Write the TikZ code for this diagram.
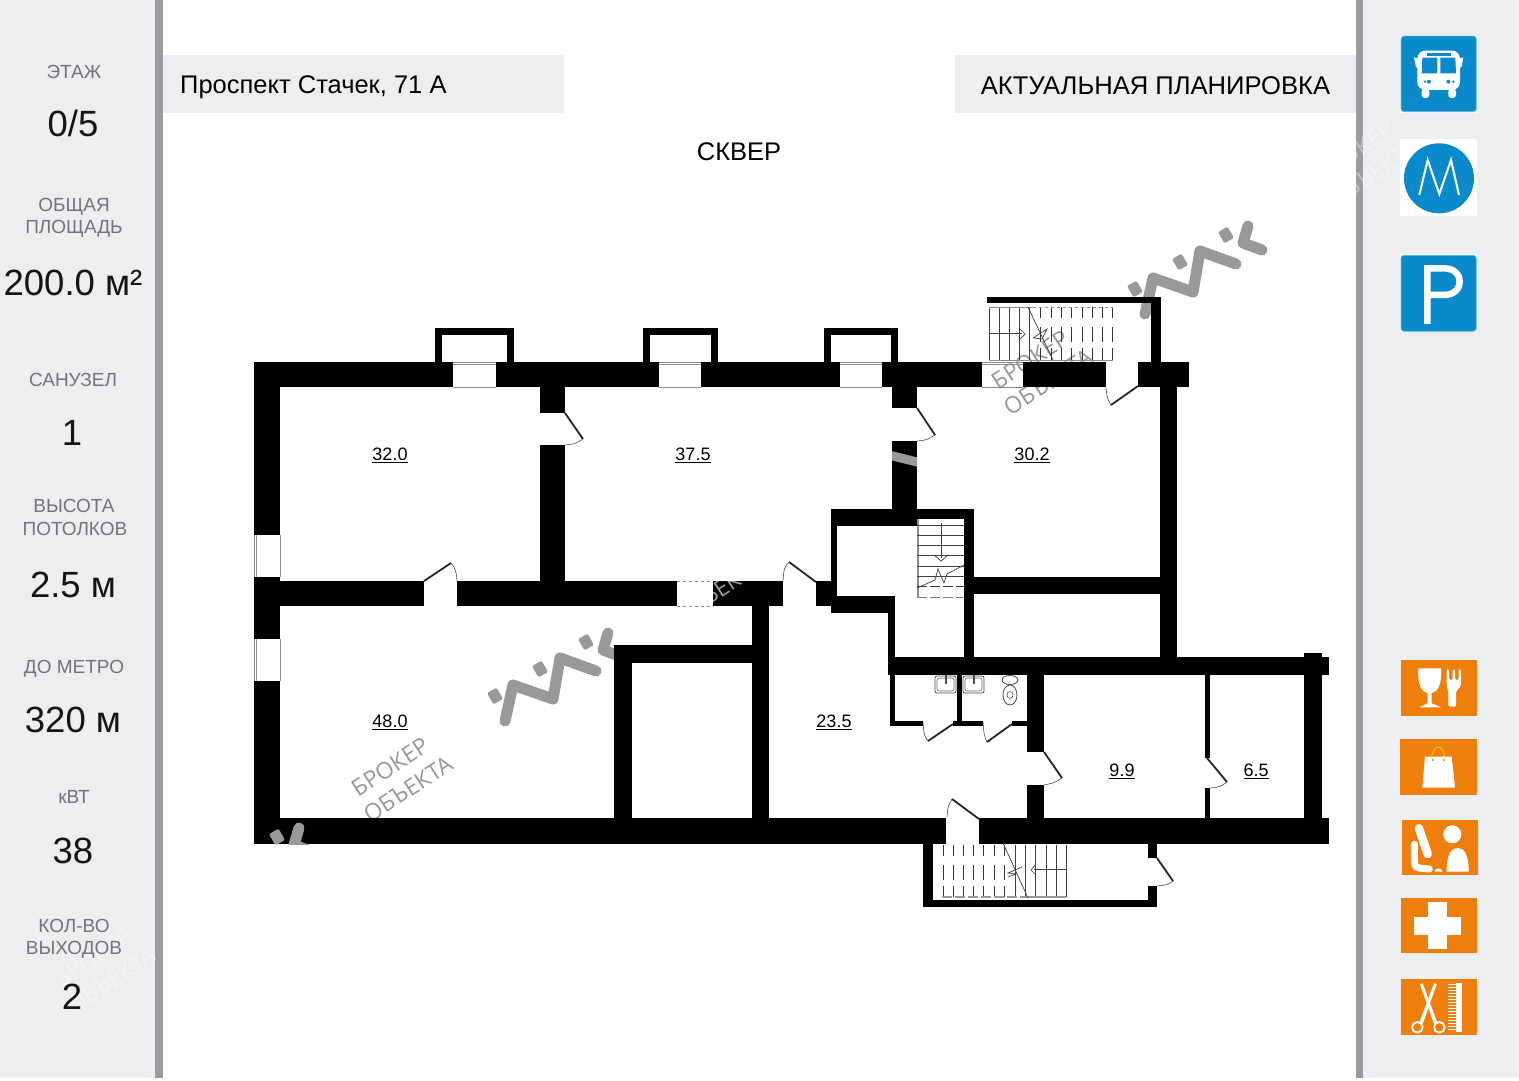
\documentclass[tikz,border=0pt]{standalone}
\usepackage{fontspec}
\setmainfont{Liberation Sans}
\newfontfamily\wmfont{Open Sans}
\usetikzlibrary{calc}
\definecolor{panelc}{HTML}{EDEEF0}
\definecolor{barc}{HTML}{9B9BA2}
\definecolor{labelc}{HTML}{747478}
\definecolor{valc}{HTML}{141414}
\definecolor{wmc}{HTML}{999999}
\definecolor{bluec}{HTML}{0B8ACB}
\definecolor{blueedge}{HTML}{62BBD2}
\definecolor{orangec}{HTML}{EE7F0D}
\tikzset{
  lab/.style={font=\fontsize{19}{19}\selectfont,text=labelc,inner sep=0pt,anchor=center},
  val/.style={font=\fontsize{36.5}{36}\selectfont,text=valc,inner sep=0pt,anchor=center},
  area/.style={font=\fontsize{18}{18}\selectfont,text=black,inner sep=0pt,anchor=center},
  head/.style={text=black,inner sep=0pt,anchor=center},
  wmtext/.style={rotate=33,text=wmc,font=\wmfont\fontsize{23}{23}\selectfont,inner sep=0pt},
  wmfaint/.style={rotate=33,text=white,text opacity=.38,font=\wmfont\fontsize{23}{23}\selectfont,inner sep=0pt},
  thinl/.style={line width=.7pt,draw=black!75},
  win/.style={line width=.7pt,draw=black!45},
  leaf/.style={line width=1.8pt,draw=black!85},
  arcl/.style={line width=.6pt,draw=black!70},
  treaddash/.style={line width=.8pt,draw=black!80,dash pattern=on 11pt off 9pt on 15pt off 6pt on 12pt},
}
\newcommand\wall[4]{\fill[black] (#1,#2) rectangle (#3,#4);}
\newcommand\door[4]{\draw[leaf] #1 -- #2; \draw[arcl] #2 .. controls #3 .. #4;}
\newcommand\logomark{%
  \draw[wmc,line width=11pt,line join=round,line cap=round] (1145,314) -- (1153,278) -- (1193,292) -- (1200,251) -- (1236,264);
  \draw[wmc,line width=11pt,line join=round,line cap=round] (1248,226) -- (1243,243) -- (1262,250);
  \foreach \dx/\dy in {1135/289,1180/262,1226/235}{
    \fill[wmc,rounded corners=1.5pt,rotate around={30:(\dx,\dy)}] (\dx-5.5,\dy-6.5) rectangle (\dx+5.5,\dy+6.5);}
}
\begin{document}
\begin{tikzpicture}[x=1pt,y=-1pt]
\useasboundingbox (0,0) rectangle (1519,1080);
\fill[white] (0,0) rectangle (1519,1080);
% panels
\fill[panelc] (0,0) rectangle (155,1078);
\fill[barc] (155,0) rectangle (163,1078);
\fill[barc] (1356,0) rectangle (1363,1078);
\fill[panelc] (1363,0) rectangle (1519,1078);
\fill[panelc] (163,55) rectangle (564,113);
\fill[panelc] (955,55) rectangle (1356,113);
% faint watermarks on the panels
\begin{scope}
\clip (60,900) rectangle (155,1010);
\node[wmfaint] (wmpa) at (93,958) {БРОКЕР};
\node[wmfaint] (wmpb) at (111,980) {ОБЪЕКТА};
\end{scope}
\begin{scope}
\clip (1356,100) rectangle (1400,210);
\node[wmfaint] (wmpc) at (1355,151) {БРОКЕР};
\node[wmfaint] (wmpd) at (1373,173) {ОБЪЕКТА};
\end{scope}
% watermarks under the walls
\logomark
\begin{scope}[shift={(-640,407)}]\logomark\end{scope}
\node[wmtext] (wma) at (390,767) {БРОКЕР};
\node[wmtext] (wmb) at (408,789) {ОБЪЕКТА};
\node[wmtext] (wmc1) at (1030,360) {БРОКЕР};
\node[wmtext] (wmd) at (1048,382) {ОБЪЕКТА};
% windows
\foreach \xa/\xb in {453/496,659/701,840/882,982/1023}{
  \draw[win] (\xa,362) -- (\xb,362) (\xa,364) -- (\xb,364) (\xa,387) -- (\xb,387);}
\foreach \ya/\yb in {535/577,639/681}{
  \draw[win] (254,\ya) -- (254,\yb) (256,\ya) -- (256,\yb) (280,\ya) -- (280,\yb);}
\draw[win,dashed] (677,581) -- (713,581) (677,606) -- (713,606);
% walls: outer frame
\wall{254}{362}{453}{387}\wall{496}{362}{659}{387}\wall{701}{362}{840}{387}
\wall{882}{362}{982}{387}\wall{1023}{362}{1106}{387}\wall{1138}{362}{1189}{387}
\wall{254}{362}{280}{535}\wall{254}{577}{280}{639}\wall{254}{681}{280}{844}
\wall{254}{818}{946}{844}\wall{979}{818}{1329}{844}
% window bays on the north wall
\foreach \xa/\xb in {435/514,643/718,824/898}{
  \wall{\xa}{328}{\xb}{335}\wall{\xa}{328}{\xa+7}{362}\wall{\xb-7}{328}{\xb}{362}}
% inner walls
\wall{540}{387}{565}{413}\wall{540}{445}{565}{581}
\wall{280}{581}{424}{606}\wall{457}{581}{677}{606}\wall{713}{581}{783}{606}\wall{816}{581}{837}{606}
\wall{892}{387}{917}{408}\wall{892}{441}{917}{509}
\wall{752}{606}{769}{818}
\wall{614}{645}{752}{663}\wall{614}{645}{632}{818}
\wall{831}{509}{917}{526}\wall{917}{509}{974}{519}\wall{831}{509}{837}{596}
\wall{964}{509}{974}{658}
\wall{974}{577}{1160}{594}\wall{1160}{387}{1177}{658}
\wall{831}{596}{895}{613}\wall{888}{596}{895}{675}
\wall{888}{657}{1329}{675}\wall{1304}{653}{1322}{818}
\wall{890}{675}{895}{726}\wall{890}{721}{923}{726}\wall{953}{721}{983}{726}\wall{1012}{721}{1027}{726}
\wall{957}{675}{962}{721}
\wall{1027}{675}{1044}{752}\wall{1027}{785}{1044}{818}
\wall{1205}{675}{1210}{758}\wall{1205}{788}{1210}{818}
% stair enclosures
\wall{987}{297}{1161}{303}\wall{1151}{297}{1161}{362}
\wall{923}{843}{933}{907}\wall{923}{900}{1157}{907}\wall{1148}{843}{1157}{858}\wall{1148}{886}{1157}{907}
% watermarks over the walls
\begin{scope}
\clip (254,818) rectangle (1329,844);
\begin{scope}[shift={(-949,602)}]\logomark\end{scope}
\end{scope}
\begin{scope}
\clip (892,441) rectangle (917,509);
\draw[wmc,line width=9pt] (885,454) -- (925,464);
\end{scope}
\begin{scope}
\clip (713,581) rectangle (783,606);
\node[wmtext] (wme) at (718,590) {ОБЪЕКТА};
\end{scope}
% doors
\door{(424,581)}{(451,563)}{(456,570)}{(457,581)}
\door{(565,413)}{(583,439)}{(575,444)}{(565,445)}
\door{(917,408)}{(935,435)}{(927,440)}{(917,441)}
\door{(1138,386)}{(1111,405)}{(1107,398)}{(1106,387)}
\door{(816,582)}{(789,562)}{(784,568)}{(783,581)}
\door{(979,819)}{(952,799)}{(948,806)}{(947,817)}
\door{(953,724)}{(928,741)}{(924,735)}{(923,722)}
\door{(1012,724)}{(987,742)}{(984,735)}{(983,722)}
\door{(1044,752)}{(1062,778)}{(1054,783)}{(1044,785)}
\door{(1207,758)}{(1227,782)}{(1220,787)}{(1210,788)}
\door{(1157,858)}{(1173,881)}{(1167,885)}{(1157,886)}
% north stair
\foreach \x in {989,999,1009,1019,1029}{\draw[thinl] (\x,307) -- (\x,360);}
\foreach \x in {1040,1051,1061,1071,1082,1092,1102,1112}{\draw[treaddash] (\x,307) -- (\x,360);}
\draw[line width=1pt,black!45] (989,307) -- (1033,307) (989,360) -- (1113,360);
\draw[line width=1pt,black!45,dashed] (1033,307) -- (1113,307);
\draw[thinl] (989,333) -- (1022,333);
\draw[thinl] (1019,328) -- (1025,334) -- (1019,340);
\draw[thinl] (1028,307) -- (1053,360);
\draw[thinl] (1033,338) -- (1047,329) -- (1042,339) -- (1034,338);
% inner stair
\fill[black!45] (917,519) rectangle (919,597);
\foreach \y in {525,535,545,555,566,576}{\draw[thinl] (917,\y) -- (964,\y);}
\draw[treaddash,dash pattern=on 10pt off 3pt] (917,586) -- (964,586);
\draw[black!50,line width=1pt,dash pattern=on 10pt off 3pt] (917,597) -- (964,597);
\draw[thinl] (941,523) -- (941,558);
\draw[thinl] (934,555) -- (941,561) -- (948,555);
\draw[thinl] (917,588) -- (935,580) -- (938,569) -- (944,583) -- (947,574) -- (964,565);
% south stair
\foreach \x in {943,953,963,973,983,994,1004}{\draw[treaddash] (\x,845) -- (\x,897);}
\foreach \x in {1015,1025,1035,1046,1056,1066}{\draw[thinl] (\x,845) -- (\x,897);}
\draw[line width=1.5pt,black!40,dash pattern=on 10pt off 3pt] (942,897) -- (1025,897);
\draw[line width=1.5pt,black!40] (1025,897) -- (1066,897);
\draw[thinl] (1034,869) -- (1066,869);
\draw[thinl] (1036,864) -- (1031,870) -- (1036,875);
\draw[thinl] (1003,843) -- (1028,898);
\draw[thinl] (1022,867) -- (1008,873) -- (1016,874) -- (1008,877);
% fixtures
\foreach \x in {935,963}{
  \draw[line width=.8pt,black!70,fill=white,rounded corners=2pt] (\x,676) rectangle (\x+21,693);
  \draw[line width=.6pt,black!60,rounded corners=2pt] (\x+2,678) rectangle (\x+19,691);
  \fill[black!70] (\x+9.5,675) rectangle (\x+11.5,684);}
\draw[line width=.8pt,black!70,fill=white] (1010,680) ellipse (8 and 4.5);
\draw[line width=.8pt,black!70,fill=white] (1010,695) ellipse (7 and 10);
\draw[line width=.6pt,black!70] (1010,695) ellipse (3 and 3.5);
% header texts
\node[head,font=\fontsize{25.5}{25}\selectfont,anchor=west] (addr) at (180,87) {Проспект Стачек, 71 А};
\node[head,font=\fontsize{25.6}{26}\selectfont] (plan) at (1155.5,86) {АКТУАЛЬНАЯ ПЛАНИРОВКА};
\node[head,font=\fontsize{25.5}{25}\selectfont] (park) at (739,152) {СКВЕР};
% room areas
\node[area] (ra) at (390,455.5) {\underline{32.0}};
\node[area] (rb) at (693,455.5) {\underline{37.5}};
\node[area] (rc) at (1032,455.5) {\underline{30.2}};
\node[area] (rd) at (390,722.5) {\underline{48.0}};
\node[area] (re) at (834,722.5) {\underline{23.5}};
\node[area] (rf) at (1122,771.5) {\underline{9.9}};
\node[area] (rg) at (1256,771.5) {\underline{6.5}};
% left panel
\node[lab] (la) at (74,72) {ЭТАЖ};
\node[val] (va) at (73,123) {0/5};
\node[lab] (lb) at (74,207) {ОБЩАЯ};
\node[lab] (lbb) at (74,229) {ПЛОЩАДЬ};
\node[val] (vb) at (73,283) {200.0 м²};
\node[lab] (lc) at (73,380) {САНУЗЕЛ};
\node[val] (vc) at (72,433) {1};
\node[lab] (ld) at (74,506) {ВЫСОТА};
\node[lab] (ldd) at (75,529) {ПОТОЛКОВ};
\node[val] (vd) at (73,585) {2.5 м};
\node[lab] (le) at (74,669) {ДО МЕТРО};
\node[val] (ve) at (73,720) {320 м};
\node[lab] (lf) at (74,797) {кВТ};
\node[val] (vf) at (73,851) {38};
\node[lab] (lg) at (74,926) {КОЛ-ВО};
\node[lab] (lgg) at (74,950) {ВЫХОДОВ};
\node[val] (vg) at (72,997) {2};
% blue icons
\begin{scope}[shift={(1380,20)},x=.3333pt,y=-.3333pt]
\fill[white] (60,46) rectangle (292,278);
\fill[bluec,draw=blueedge,line width=.8pt,rounded corners=3pt] (63,48) rectangle (289,275);
% bus
\fill[white,rounded corners=8pt] (112,92) rectangle (240,210);
\fill[white] (102,112) -- (120,118) -- (120,142) -- (108,142) -- cycle;
\fill[white] (250,112) -- (232,118) -- (232,142) -- (244,142) -- cycle;
\fill[white,rounded corners=3pt] (125,205) rectangle (148,234);
\fill[white,rounded corners=3pt] (205,205) rectangle (228,234);
\fill[bluec] (127,113) -- (172,113) -- (172,160) -- (125,160) -- cycle;
\fill[bluec] (181,113) -- (226,113) -- (228,160) -- (181,160) -- cycle;
\fill[bluec] (140,99) rectangle (213,107);
\fill[bluec] (135,185) circle (4) (147,185) circle (6) (205,185) circle (6) (220,185) circle (4);
% metro
\fill[white] (60,357) rectangle (292,588);
\fill[bluec] (177,475) circle (105);
\draw[white,line width=2pt,line join=miter] (118,525) -- (143,420) -- (178,522) -- (213,420) -- (237,525);
% parking
\fill[white] (60,703) rectangle (292,937);
\fill[bluec,draw=blueedge,line width=.8pt,rounded corners=3pt] (63,706) rectangle (289,934);
\draw[white,line width=6.5pt,line join=miter] (142,912) -- (142,745) -- (192,745) .. controls (255,745) and (255,825) .. (192,825) -- (142,825);
\end{scope}
% orange icons
\begin{scope}[shift={(1380,650)},x=.3333pt,y=-.3333pt]
\fill[orangec] (62,30) rectangle (292,197);
\fill[white] (115,55) -- (183,55) .. controls (186,100) and (175,125) .. (155,130) -- (155,160) -- (183,172) -- (118,172) -- (143,160) -- (143,130) .. controls (123,125) and (112,100) .. (115,55) -- cycle;
\fill[white,rounded corners=2pt] (200,58) -- (207,58) -- (207,90) -- (218,90) -- (218,58) -- (225,58) -- (225,90) -- (236,90) -- (236,58) -- (243,58) -- (243,110) -- (228,122) -- (228,170) -- (205,170) -- (205,122) -- (200,110) -- cycle;
\fill[orangec] (60,268) rectangle (292,435);
\fill[white] (135,320) -- (215,320) -- (225,413) -- (127,413) -- cycle;
\draw[yellow!75!orange,line width=.7pt] (155,325) .. controls (158,280) and (192,280) .. (195,325);
\fill[orangec] (158,330) circle (3.5) (192,330) circle (3.5);
\fill[orangec] (65,511) rectangle (295,675);
\draw[white,line width=8.5pt,line cap=round] (117,535) -- (143,612);
\draw[white,line width=7pt,line cap=round] (103,583) -- (103,635) .. controls (103,650) and (112,655) .. (125,655) -- (148,657);
\fill[white] (163,665) .. controls (165,652) and (185,652) .. (188,665) -- cycle;
\fill[white] (217,553) circle (27);
\fill[white] (200,665) .. controls (200,610) and (215,594) .. (233,594) .. controls (251,594) and (266,610) .. (266,665) -- cycle;
\fill[orangec] (62,743) rectangle (292,910);
\fill[white] (145,757) rectangle (200,897);
\fill[white] (102,800) rectangle (242,855);
\fill[orangec] (62,987) rectangle (292,1155);
\fill[white] (120,1003) -- (128,1000) -- (172,1118) -- (162,1122) -- cycle;
\fill[white] (170,1003) -- (162,1000) -- (118,1118) -- (128,1122) -- cycle;
\draw[white,line width=1.8pt] (112,1132) circle (16) (178,1132) circle (16);
\fill[white] (228,1000) rectangle (247,1147);
\foreach \t in {0,...,15}{\fill[white] (205,1001+9*\t) rectangle (230,1006+9*\t);}
\end{scope}
\end{tikzpicture}
\end{document}
